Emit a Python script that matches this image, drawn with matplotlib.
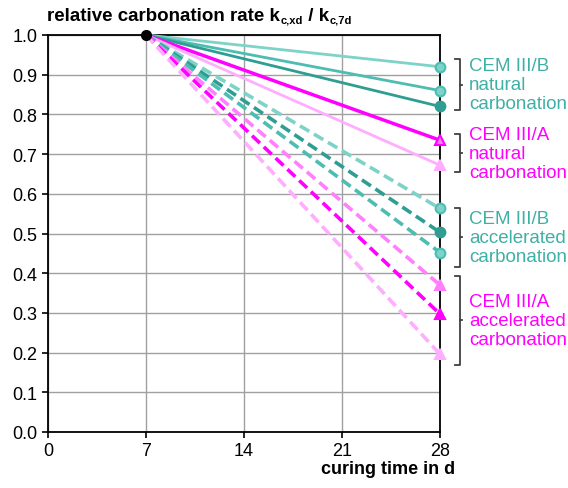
import matplotlib
matplotlib.use("Agg")
import matplotlib.pyplot as plt
from matplotlib.transforms import blended_transform_factory

plt.rcParams['font.family'] = ['Liberation Sans', 'DejaVu Sans']

x_days = [7, 28]
# end values at 28 d (start at 1.0 at 7 d)
b_nat = [0.92, 0.86, 0.82]
a_nat = [0.735, 0.672]
b_acc = [0.563, 0.503, 0.452]
a_acc = [0.37, 0.297, 0.196]

teal_light = '#7dd3c8'
teal_mid = '#4dbdb2'
teal_dark = '#2e9e92'
mag = '#ff00ff'
pink_mid = '#ff7fff'
pink_light = '#ffadff'

fig = plt.figure(figsize=(5.68, 4.89), dpi=100)
ax = fig.add_axes([48/568, 1-433/489, 392/568, 397/489])

ax.set_xlim(0, 28)
ax.set_ylim(0, 1.0)
ax.set_xticks([0, 7, 14, 21, 28])
ax.set_yticks([i/10 for i in range(11)])
ax.set_yticklabels([f"{i/10:.1f}" for i in range(11)])
ax.grid(True, color='#a0a0a0', lw=1.0)
ax.set_axisbelow(True)
for s in ax.spines.values():
    s.set_linewidth(1.3)
    s.set_color('black')
ax.tick_params(direction='out', length=4, width=1.2, labelsize=13, colors='black')

dash = (0, (3, 1.5))

def line(v, color, ls, marker, mfc, mec, lw=2.0, ms=7):
    ax.plot(x_days, [1.0, v], color=color, ls=ls, lw=lw, zorder=3, clip_on=False)
    ax.plot([28], [v], marker=marker, ms=ms, mfc=mfc, mec=mec, mew=1.5, ls='none', zorder=4, clip_on=False)

# CEM III/B natural
line(b_nat[0], teal_light, '-', 'o', teal_light, teal_mid)
line(b_nat[1], teal_mid, '-', 'o', teal_light, teal_mid)
line(b_nat[2], teal_dark, '-', 'o', teal_dark, teal_dark)
# CEM III/A natural
line(a_nat[0], mag, '-', '^', pink_mid, mag, lw=2.5)
line(a_nat[1], pink_light, '-', '^', pink_light, pink_light)
# CEM III/B accelerated
line(b_acc[0], teal_light, dash, 'o', teal_light, teal_mid, lw=2.6)
line(b_acc[1], teal_dark, dash, 'o', teal_dark, teal_dark, lw=2.6)
line(b_acc[2], teal_mid, dash, 'o', teal_light, teal_mid, lw=2.6)
# CEM III/A accelerated
line(a_acc[0], pink_mid, dash, '^', pink_mid, pink_mid, lw=2.6)
line(a_acc[1], mag, dash, '^', mag, mag, lw=2.6)
line(a_acc[2], pink_light, dash, '^', pink_light, pink_light, lw=2.6)

ax.plot([7], [1.0], marker='o', ms=7, color='black', zorder=5, clip_on=False)

# title built from pieces (main text + bold subscripts)
t1 = fig.text(47/568, 1-21/489, 'relative carbonation rate k', fontsize=13.5,
              fontweight='bold', va='baseline', ha='left')
t2 = fig.text(0, 0, 'c,xd', fontsize=8, fontweight='bold', va='baseline', ha='left')
t3 = fig.text(0, 0, ' / k', fontsize=13.5, fontweight='bold', va='baseline', ha='left')
t4 = fig.text(0, 0, 'c,7d', fontsize=8, fontweight='bold', va='baseline', ha='left')
fig.canvas.draw()
r = fig.canvas.get_renderer()
base_y = 1-21/489
sub_y = base_y - 3/489
def right_edge(t):
    bb = t.get_window_extent(r)
    return bb.x1 / fig.bbox.width
t2.set_position((right_edge(t1) + 0.5/568, sub_y))
fig.canvas.draw()
t3.set_position((right_edge(t2), base_y))
fig.canvas.draw()
t4.set_position((right_edge(t3) + 0.5/568, sub_y))

fig.text(455/568, 1-470/489, 'curing time in d', fontsize=13, fontweight='bold', va='center', ha='right')

# brackets and labels
tr = blended_transform_factory(ax.transAxes, ax.transData)
groups = [
    (0.94, 0.81, 'CEM III/B\nnatural\ncarbonation', '#3fb0a5'),
    (0.75, 0.655, 'CEM III/A\nnatural\ncarbonation', mag),
    (0.565, 0.415, 'CEM III/B\naccelerated\ncarbonation', '#3fb0a5'),
    (0.393, 0.17, 'CEM III/A\naccelerated\ncarbonation', mag),
]
bx = (455-48)/392
tip = (462-48)/392
tx = (469-48)/392
for top, bot, label, col in groups:
    mid = (top + bot) / 2
    ax.plot([bx, bx+0.012, bx+0.012, bx], [top, top, bot, bot], transform=tr,
            color='#404040', lw=1.3, clip_on=False)
    ax.plot([bx+0.012, tip], [mid, mid], transform=tr, color='#404040', lw=1.3, clip_on=False)
    ax.text(tx, mid, label, transform=tr, color=col, fontsize=13.5, va='center', ha='left',
            linespacing=1.15)

fig.savefig('out.png', dpi=100)
